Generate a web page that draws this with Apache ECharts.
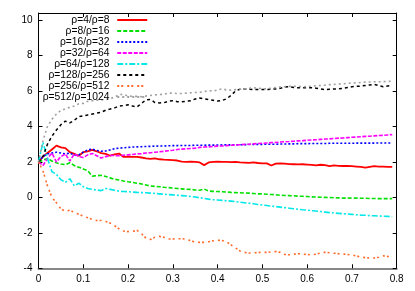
<!DOCTYPE html>
<html>
<head>
<meta charset="utf-8">
<script src="https://cdn.jsdelivr.net/npm/echarts@6/dist/echarts.min.js"></script>
<style>
html,body{margin:0;padding:0;background:#fff;}
#chart{width:415px;height:291px;}
</style>
</head>
<body>
<div id="chart"></div>
<script>
const xs = [0,0.01,0.02,0.03,0.04,0.05,0.06,0.07,0.08,0.09,
0.1,0.11,0.12,0.13,0.14,0.15,0.16,0.17,0.18,0.19,
0.2,0.21,0.22,0.23,0.24,0.25,0.26,0.27,0.28,0.29,
0.3,0.31,0.32,0.33,0.34,0.35,0.36,0.37,0.38,0.39,
0.4,0.41,0.42,0.43,0.44,0.45,0.46,0.47,0.48,0.49,
0.5,0.51,0.52,0.53,0.54,0.55,0.56,0.57,0.58,0.59,
0.6,0.61,0.62,0.63,0.64,0.65,0.66,0.67,0.68,0.69,
0.7,0.71,0.72,0.73,0.74,0.75,0.76,0.77,0.78,0.79];

const seriesNames = ["ρ=4/ρ=8","ρ=8/ρ=16","ρ=16/ρ=32","ρ=32/ρ=64","ρ=64/ρ=128","ρ=128/ρ=256","ρ=256/ρ=512","ρ=512/ρ=1024"];

const r4 = [2.0,2.3,2.5,2.7,2.92,2.82,2.78,2.55,2.45,2.35,
2.55,2.6,2.68,2.6,2.5,2.45,2.35,2.42,2.47,2.28,
2.3,2.28,2.28,2.25,2.2,2.17,2.2,2.15,2.13,2.12,
2.1,2.08,2.02,2.0,2.02,2.0,1.97,1.82,1.97,2.0,
2.02,2.0,2.0,1.99,2.0,1.97,1.96,1.95,1.97,1.94,
1.92,1.92,1.8,1.9,1.92,1.9,1.88,1.87,1.86,1.87,
1.85,1.83,1.8,1.84,1.82,1.76,1.8,1.78,1.77,1.77,
1.76,1.74,1.72,1.68,1.72,1.76,1.74,1.73,1.72,1.72];

const r8 = [2.0,2.1,2.2,2.05,1.95,1.88,1.85,1.95,1.8,1.7,
1.6,1.5,1.2,1.22,1.25,1.18,1.1,1.02,0.98,0.92,
0.88,0.85,0.8,0.76,0.7,0.64,0.62,0.6,0.57,0.55,
0.53,0.5,0.48,0.46,0.45,0.42,0.4,0.47,0.36,0.34,
0.33,0.32,0.3,0.28,0.27,0.26,0.25,0.24,0.22,0.2,
0.2,0.18,0.16,0.15,0.12,0.11,0.1,0.09,0.07,0.06,
0.05,0.03,0.02,0.01,0.0,-0.01,-0.02,-0.03,-0.04,-0.04,
-0.03,-0.04,-0.05,-0.05,-0.06,-0.06,-0.07,-0.07,-0.07,-0.07];

const r16 = [2.0,2.3,2.45,2.5,2.55,2.5,2.45,2.5,2.38,2.4,
2.55,2.68,2.72,2.65,2.6,2.62,2.68,2.75,2.78,2.8,
2.82,2.84,2.85,2.86,2.87,2.88,2.89,2.9,2.9,2.91,
2.92,2.92,2.93,2.93,2.93,2.94,2.94,2.94,2.95,2.95,
2.95,2.96,2.96,2.96,2.97,2.97,2.97,2.98,2.98,2.99,
2.99,3.0,3.0,3.0,3.01,3.01,3.02,3.02,3.03,3.03,
3.03,3.04,3.04,3.04,3.04,3.05,3.05,3.05,3.05,3.05,
3.05,3.06,3.06,3.06,3.06,3.06,3.07,3.07,3.07,3.07];

const r32 = [2.0,1.8,2.2,2.5,2.0,2.3,2.45,2.05,2.45,2.3,
2.25,2.4,2.48,2.35,2.22,2.3,2.36,2.36,2.35,2.38,
2.4,2.42,2.45,2.47,2.5,2.52,2.55,2.57,2.6,2.63,
2.66,2.7,2.72,2.74,2.76,2.78,2.82,2.84,2.85,2.87,
2.89,2.9,2.92,2.94,2.95,2.97,2.99,3.0,3.02,3.04,
3.05,3.07,3.09,3.1,3.12,3.14,3.15,3.17,3.19,3.2,
3.22,3.24,3.25,3.27,3.29,3.3,3.32,3.34,3.35,3.37,
3.39,3.4,3.42,3.44,3.45,3.47,3.49,3.5,3.52,3.54];

const r64 = [2.0,3.1,2.2,1.45,1.3,1.0,0.85,1.05,0.65,0.8,
0.6,0.5,0.45,0.42,0.38,0.5,0.45,0.4,0.35,0.33,
0.32,0.3,0.28,0.27,0.26,0.24,0.22,0.2,0.18,0.16,
0.14,0.12,0.1,0.08,0.05,0.02,-0.02,-0.06,-0.1,-0.13,
-0.15,-0.17,-0.19,-0.21,-0.24,-0.27,-0.3,-0.33,-0.36,-0.4,
-0.43,-0.46,-0.49,-0.52,-0.55,-0.58,-0.61,-0.64,-0.67,-0.7,
-0.72,-0.75,-0.77,-0.8,-0.83,-0.86,-0.88,-0.9,-0.92,-0.94,
-0.96,-0.98,-1.0,-1.01,-1.03,-1.04,-1.05,-1.06,-1.07,-1.08];

const r128 = [2.0,2.3,3.0,3.45,3.8,4.1,4.3,4.2,4.35,4.55,
4.6,4.65,4.7,4.75,4.8,4.92,4.98,5.05,5.15,5.18,
5.22,5.15,5.1,5.3,5.5,5.52,5.35,5.33,5.34,5.42,
5.45,5.4,5.39,5.42,5.45,5.55,5.6,5.56,5.52,5.48,
5.43,5.47,5.56,5.75,6.0,6.1,6.12,6.1,6.08,6.08,
6.08,6.08,6.1,6.12,6.15,6.22,6.24,6.2,6.18,6.18,
6.18,6.18,6.16,6.12,6.08,6.1,6.12,6.12,6.15,6.2,
6.24,6.26,6.28,6.31,6.34,6.37,6.3,6.24,6.28,6.31];

const r256 = [2.0,1.5,0.65,0.0,-0.3,-0.65,-0.78,-0.72,-0.85,-0.95,
-1.05,-1.15,-1.25,-1.3,-1.3,-1.36,-1.45,-1.6,-1.78,-1.9,
-1.93,-1.92,-1.86,-2.05,-2.3,-2.38,-2.25,-2.2,-2.25,-2.35,
-2.35,-2.33,-2.33,-2.36,-2.44,-2.52,-2.54,-2.54,-2.5,-2.45,
-2.42,-2.43,-2.5,-2.68,-2.85,-3.02,-3.1,-3.14,-3.13,-3.11,
-3.1,-3.1,-3.08,-3.05,-3.1,-3.22,-3.24,-3.2,-3.18,-3.2,
-3.22,-3.24,-3.2,-3.14,-3.1,-3.12,-3.15,-3.18,-3.2,-3.22,
-3.25,-3.3,-3.37,-3.4,-3.42,-3.42,-3.38,-3.3,-3.33,-3.37];

const r512 = [2.0,3.2,4.0,4.4,4.7,4.9,5.0,5.08,5.15,5.28,
5.3,5.42,5.45,5.48,5.5,5.52,5.58,5.65,5.8,5.8,
5.72,5.7,5.7,5.68,5.72,5.75,5.78,5.8,5.82,5.88,
5.88,5.86,5.86,5.88,5.9,5.92,5.93,5.96,6.02,6.0,
6.06,6.12,6.06,6.05,6.08,6.1,6.12,6.15,6.18,6.16,
6.13,6.12,6.16,6.2,6.23,6.24,6.26,6.27,6.26,6.25,
6.24,6.27,6.3,6.31,6.33,6.36,6.37,6.39,6.41,6.43,
6.45,6.46,6.48,6.5,6.51,6.52,6.52,6.53,6.54,6.55];

const xTicks = {min: 0, max: 0.8, interval: 0.1};
const yTicks = {min: -4, max: 10.4, interval: 2};

const values = [r4, r8, r16, r32, r64, r128, r256, r512];
const colors = ['#ff0000','#00e000','#0000ff','#ff00ff','#00e8e8','#000000','#ff6a2a','#a0a0a0'];
const dashes = ['solid',[4,2],[2,2],[4,1.5],[6,2,2,2],[3,3],[2,2,2,4],[2,3]];
const widths = [1.8,1.6,1.6,1.6,1.6,1.5,1.6,1.6];

const font = 'Liberation Sans, Arial, sans-serif';
const chart = echarts.init(document.getElementById('chart'), null, {renderer: 'canvas'});

const series = seriesNames.map((name, k) => ({
  name: name,
  type: 'line',
  xAxisIndex: 0,
  yAxisIndex: 0,
  symbol: 'none',
  showSymbol: false,
  data: xs.map((x, i) => [x, values[k][i]]),
  lineStyle: {color: colors[k], width: widths[k], type: dashes[k]},
  itemStyle: {color: colors[k]},
  animation: false
}));

function axisCommon(showLabels, lineColor, lineWidth) {
  return {
    axisLine: {show: true, onZero: false, lineStyle: {color: lineColor, width: lineWidth}},
    axisTick: {show: true, inside: true, length: 4, lineStyle: {color: '#000', width: 1}},
    splitLine: {show: false},
    axisLabel: {show: showLabels, color: '#000', fontSize: 10, fontFamily: font, margin: 6, showMaxLabel: true}
  };
}

const option = {
  backgroundColor: '#ffffff',
  animation: false,
  grid: {left: 38.5, right: 18.3, top: 13, bottom: 22.7, containLabel: false},
  legend: {
    orient: 'vertical',
    align: 'right',
    left: 42.7,
    top: 15,
    padding: 0,
    itemWidth: 30,
    itemHeight: 10,
    itemGap: 1,
    selectedMode: false,
    itemStyle: {opacity: 0},
    lineStyle: {opacity: 1},
    formatter: n => n + ' ',
    textStyle: {color: '#000', fontSize: 10.3, fontFamily: font, lineHeight: 10},
    data: seriesNames
  },
  xAxis: [
    Object.assign({type: 'value', position: 'bottom', min: xTicks.min, max: xTicks.max, interval: xTicks.interval}, axisCommon(true, '#888', 2)),
    Object.assign({type: 'value', position: 'top', min: xTicks.min, max: xTicks.max, interval: xTicks.interval}, axisCommon(false, '#000', 1))
  ],
  yAxis: [
    Object.assign({type: 'value', position: 'left', min: yTicks.min, max: yTicks.max, interval: yTicks.interval}, axisCommon(true, '#000', 1), {
      axisLabel: {show: true, color: '#000', fontSize: 10, fontFamily: font, margin: 6, showMaxLabel: false}
    }),
    Object.assign({type: 'value', position: 'right', min: yTicks.min, max: yTicks.max, interval: yTicks.interval}, axisCommon(false, '#000', 1))
  ],
  series: series
};
chart.setOption(option);
</script>
</body>
</html>
